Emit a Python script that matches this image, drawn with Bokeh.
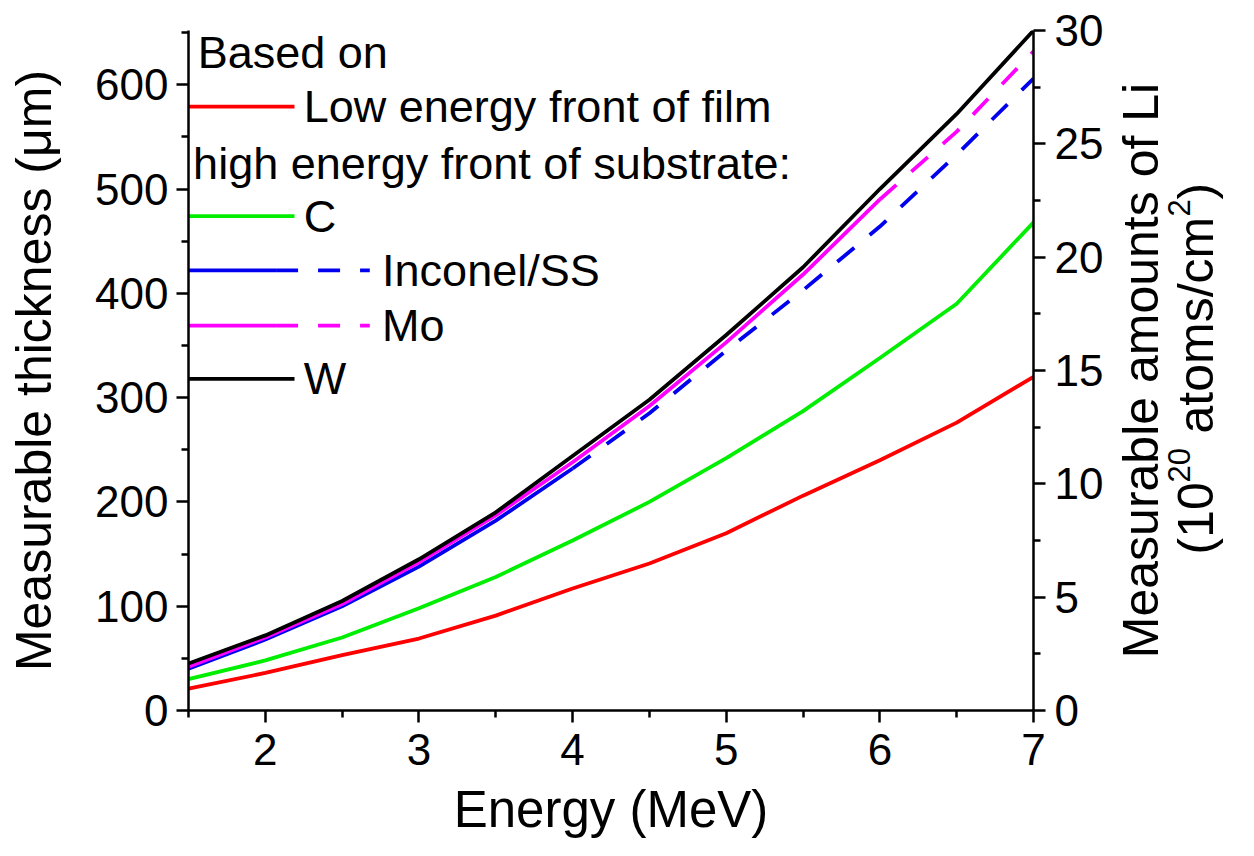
import math
from bokeh.plotting import figure
from bokeh.layouts import row
from bokeh.models import Range1d, LinearAxis, FixedTicker, Label
from bokeh.core.properties import value
from bokeh.embed import file_html
from bokeh.resources import INLINE

# ---------------- data ----------------
energy = [1.5, 2.0, 2.5, 3.0, 3.5, 4.0, 4.5, 5.0, 5.5, 6.0, 6.5, 7.0]
film_low = [21, 36, 53, 69, 91, 117, 141, 170, 206, 240, 276, 320]
sub_C = [30, 48, 70, 98, 128, 163, 200, 242, 287, 338, 390, 468]
sub_Inconel = [40, 68, 100, 138, 182, 232, 285, 345, 403, 464, 533, 606]
sub_Mo = [42, 70, 102, 142, 187, 238, 292, 353, 418, 490, 555, 632]
sub_W = [45, 72, 105, 145, 190, 244, 298, 360, 425, 500, 572, 652]

inconel_solid_end = 4.0   # solid up to this energy, dashed after
mo_solid_end = 6.0

left_ticks = [0, 100, 200, 300, 400, 500, 600]
left_minor = [50, 150, 250, 350, 450, 550, 650]
right_ticks = [0, 5, 10, 15, 20, 25, 30]
right_minor = [2.5, 7.5, 12.5, 17.5, 22.5, 27.5]
x_ticks = [2, 3, 4, 5, 6, 7]
x_minor = [1.5, 2.5, 3.5, 4.5, 5.5, 6.5]

legend_labels = ["Low energy front of film", "C", "Inconel/SS", "Mo", "W"]
right_title_1 = "Measurable amounts of Li"
right_title_2 = ["(10", "20", "atoms/cm", "2", ")"]

FONT = "Liberation Sans"
RED, GREEN, BLUE, MAG, BLACK = "#FF0000", "#00EE00", "#0000EE", "#FF00FF", "#000000"
LW = 3.8
DASH = "22 20"

p = figure(width=1108, height=840, x_range=Range1d(1.5, 7), y_range=Range1d(0, 652),
           output_backend="svg", toolbar_location=None,
           min_border_left=188, min_border_right=75, min_border_top=30, min_border_bottom=130)
p.extra_y_ranges = {"li": Range1d(0, 30)}
p.outline_line_color = None
p.xgrid.visible = False
p.ygrid.visible = False
p.background_fill_color = "white"
p.border_fill_color = "white"


def style_axis(ax, label_size="44px"):
    ax.axis_line_width = 2.5
    ax.axis_line_color = "black"
    ax.major_tick_line_width = 2.5
    ax.minor_tick_line_width = 2.5
    ax.major_tick_in = 0
    ax.major_tick_out = 12
    ax.minor_tick_in = 0
    ax.minor_tick_out = 7
    ax.major_label_text_font = FONT
    ax.major_label_text_font_size = label_size
    ax.major_label_text_color = "black"
    ax.axis_label_text_font = FONT
    ax.axis_label_text_font_size = "50px"
    ax.axis_label_text_font_style = "normal"
    ax.axis_label_text_color = "black"


xa = p.xaxis[0]
xa.ticker = FixedTicker(ticks=x_ticks, minor_ticks=x_minor)
xa.axis_label = "Energy (MeV)"
style_axis(xa)
xa.axis_label_text_font_size = "51px"
xa.major_label_standoff = 11
xa.axis_label_standoff = 13

ya = p.yaxis[0]
ya.ticker = FixedTicker(ticks=left_ticks, minor_ticks=left_minor)
ya.axis_label = "Measurable thickness (\u03bcm)"
style_axis(ya)
ya.major_label_standoff = 8
ya.axis_label_standoff = 30

ra = LinearAxis(y_range_name="li", ticker=FixedTicker(ticks=right_ticks, minor_ticks=right_minor))
style_axis(ra)
ra.major_label_standoff = 9
p.add_layout(ra, "right")

# ---------------- curves ----------------
def split(xs, ys, xcut):
    i = xs.index(xcut)
    return (xs[:i + 1], ys[:i + 1]), (xs[i:], ys[i:])

(bx1, by1), (bx2, by2) = split(energy, sub_Inconel, inconel_solid_end)
(mx1, my1), (mx2, my2) = split(energy, sub_Mo, mo_solid_end)

p.line(energy, film_low, line_color=RED, line_width=LW)
p.line(energy, sub_C, line_color=GREEN, line_width=LW)
p.line(bx1, by1, line_color=BLUE, line_width=LW)
p.line(bx2, by2, line_color=BLUE, line_width=LW, line_dash=DASH)
p.line(mx1, my1, line_color=MAG, line_width=LW)
p.line(mx2, my2, line_color=MAG, line_width=LW, line_dash=DASH)
p.line(energy, sub_W, line_color=BLACK, line_width=LW)

# ---------------- manual legend (layout positions) ----------------
lg_x0, lg_x1, lg_x2, lg_tx, lg_tx2 = 1.5, 2.07, 2.68, 2.25, 2.76
rows_y = [579, 474, 422, 369, 318]


def add_text(x, y, t, size="45px"):
    p.add_layout(Label(x=x, y=y, text=t, text_font=FONT, text_font_size=size,
                       text_baseline="middle", text_align="left", text_color="black"))


add_text(1.56, 631, "Based on")
add_text(1.53, 524, "high energy front of substrate:")

p.line([lg_x0, 2.19], [rows_y[0]] * 2, line_color=RED, line_width=LW)
add_text(lg_tx, rows_y[0], legend_labels[0])
p.line([lg_x0, 2.19], [rows_y[1]] * 2, line_color=GREEN, line_width=LW)
add_text(lg_tx, rows_y[1], legend_labels[1])
p.line([lg_x0, lg_x1], [rows_y[2]] * 2, line_color=BLUE, line_width=LW)
p.line([lg_x1, lg_x2], [rows_y[2]] * 2, line_color=BLUE, line_width=LW, line_dash=DASH)
add_text(lg_tx2, rows_y[2], legend_labels[2])
p.line([lg_x0, lg_x1], [rows_y[3]] * 2, line_color=MAG, line_width=LW)
p.line([lg_x1, lg_x2], [rows_y[3]] * 2, line_color=MAG, line_width=LW, line_dash=DASH)
add_text(lg_tx2, rows_y[3], legend_labels[3])
p.line([lg_x0, 2.19], [rows_y[4]] * 2, line_color=BLACK, line_width=LW)
add_text(lg_tx, rows_y[4], legend_labels[4])

# ---------------- right axis title panel (two lines, reading upward) ----------------
# the panel's frame is aligned with the main frame (page y 30..710) -> y = 840 - page_y
p2 = figure(width=130, height=840, x_range=Range1d(0, 130), y_range=Range1d(130, 810),
            output_backend="svg", toolbar_location=None, x_axis_type=None, y_axis_type=None,
            min_border_left=0, min_border_right=0, min_border_top=30, min_border_bottom=130)
p2.outline_line_color = None
p2.background_fill_color = "white"
p2.border_fill_color = "white"

up = math.pi / 2
p2.text(x=[32], y=[470], text=[right_title_1], angle=up, text_font=value(FONT),
        text_font_size="50px", text_baseline="middle", text_align="center", text_color="black")
main_x, sup_x = 87, 70
p2.text(x=[main_x, main_x, main_x], y=[286, 407, 641],
        text=[right_title_2[0], right_title_2[2], right_title_2[4]], angle=up,
        text_font=value(FONT), text_font_size="50px", text_baseline="middle",
        text_align="left", text_color="black")
p2.text(x=[sup_x, sup_x], y=[358, 624], text=[right_title_2[1], right_title_2[3]], angle=up,
        text_font=value(FONT), text_font_size="31px", text_baseline="middle",
        text_align="left", text_color="black")

open("out.html", "w").write(file_html(row(p, p2), INLINE))
